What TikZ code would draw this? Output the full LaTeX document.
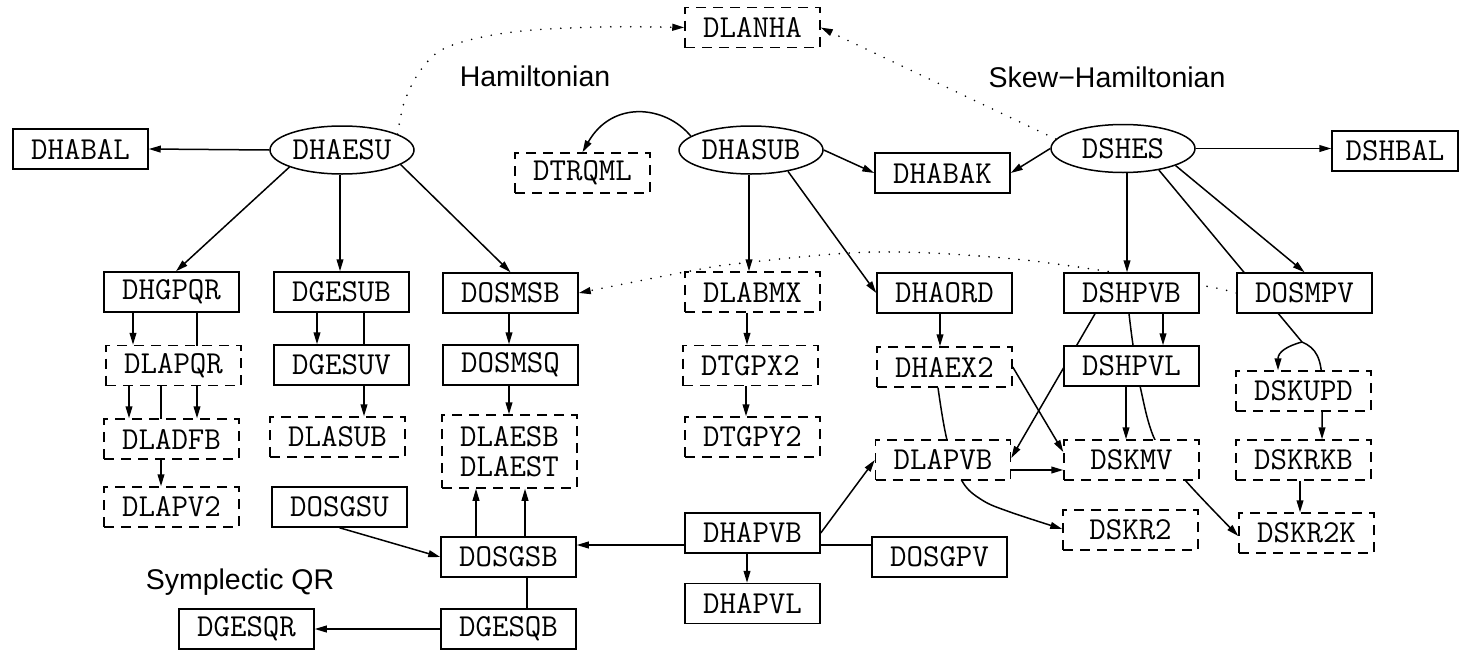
\documentclass[tikz,border=0pt]{standalone}
\usepackage{fontspec}
\newfontfamily\labfont{Liberation Sans}
\usetikzlibrary{shapes.geometric,arrows.meta}
\pgfdeclarelayer{bg}
\pgfsetlayers{bg,main}
\begin{document}
\begin{tikzpicture}[x=0.5pt,y=-0.5pt,
  every node/.style={font=\fontsize{16}{18}\selectfont\ttfamily},
  sbox/.style={draw, line width=0.75pt, fill=white, minimum width=67.5pt, minimum height=20pt, inner sep=0pt},
  dbox/.style={sbox, dash pattern=on 5pt off 3.5pt},
  ell/.style={ellipse, draw, line width=0.75pt, fill=white, minimum width=72pt, minimum height=24pt, inner sep=0pt},
  lbl/.style={font=\labfont\fontsize{14.25}{16}\selectfont, anchor=base, inner sep=0pt},
  ln/.style={line width=0.75pt},
  arr/.style={ln, -{Triangle[length=6pt,width=3.4pt]}},
  dotl/.style={line width=0.9pt, line cap=round, dash pattern=on 0pt off 5pt},
]
\useasboundingbox (0,0) rectangle (1459,653);

% nodes
\node[sbox] (DHABAL) at (80.5,149) {DHABAL};
\node[ell] (DHAESU) at (342,150) {DHAESU};
\node[dbox] (DLANHA) at (752.5,27.5) {DLANHA};
\node[dbox] (DTRQML) at (582.5,173) {DTRQML};
\node[ell] (DHASUB) at (751,150) {DHASUB};
\node[sbox] (DHABAK) at (942.5,173) {DHABAK};
\node[ell] (DSHES) at (1123,148.5) {DSHES};
\node[sbox, minimum width=63pt] (DSHBAL) at (1395,151) {DSHBAL};

\node[sbox] (DHGPQR) at (171.5,292) {DHGPQR};
\node[sbox] (DGESUB) at (341.5,292) {DGESUB};
\node[sbox] (DOSMSB) at (510.5,293) {DOSMSB};
\node[dbox] (DLABMX) at (752.5,292) {DLABMX};
\node[sbox] (DHAORD) at (944.5,293) {DHAORD};
\node[sbox] (DSHPVB) at (1131.5,293) {DSHPVB};
\node[sbox] (DOSMPV) at (1304.5,293) {DOSMPV};

\node[dbox] (DLAPQR) at (173.5,365.5) {DLAPQR};
\node[sbox] (DGESUV) at (341.5,365) {DGESUV};
\node[sbox] (DOSMSQ) at (510.5,365) {DOSMSQ};
\node[dbox] (DTGPX2) at (750.5,365.5) {DTGPX2};
\node[dbox] (DHAEX2) at (944.5,367) {DHAEX2};
\node[sbox] (DSHPVL) at (1131.5,366) {DSHPVL};
\node[dbox] (DSKUPD) at (1303.5,391) {DSKUPD};

\node[dbox] (DLADFB) at (171.5,439) {DLADFB};
\node[dbox] (DLASUB) at (337.5,437) {DLASUB};
\node[dbox, minimum height=36.5pt, align=center, font=\fontsize{16}{15}\selectfont\ttfamily] (DLAESB) at (509.5,451.5) {DLAESB\\DLAEST};
\node[dbox] (DTGPY2) at (752.5,437) {DTGPY2};
\node[dbox] (DLAPVB) at (943,460) {DLAPVB};
\node[dbox] (DSKMV) at (1131.5,460) {DSKMV};
\node[dbox] (DSKRKB) at (1303.5,460) {DSKRKB};

\node[dbox] (DLAPV2) at (171.5,507) {DLAPV2};
\node[sbox] (DOSGSU) at (339.5,507) {DOSGSU};
\node[sbox] (DOSGSB) at (508.5,557) {DOSGSB};
\node[sbox] (DHAPVB) at (752.5,533) {DHAPVB};
\node[sbox] (DOSGPV) at (939.5,557) {DOSGPV};
\node[sbox] (DHAPVL) at (752.5,603.5) {DHAPVL};
\node[dbox] (DSKR2) at (1130.5,530) {DSKR2};
\node[dbox] (DSKR2K) at (1306.5,533) {DSKR2K};
\node[sbox] (DGESQB) at (508.5,629) {DGESQB};
\node[sbox] (DGESQR) at (246.5,629) {DGESQR};

% labels
\node[lbl] (hamlab) at (535,86) {Hamiltonian};
\node[lbl] (skewlab) at (1107,87) {Skew−Hamiltonian};
\node[lbl] (sqrlab) at (240,589) {Symplectic QR};

\coordinate (J) at (1302,342);

\begin{pgfonlayer}{bg}
% top level
\draw[arr] (DHAESU.west) -- (DHABAL.east);
\draw[dotl, -{Triangle[length=6pt,width=3.4pt]}] plot[smooth, tension=0.6] coordinates {(DHAESU.16) (405,100) (423,67) (450,46) (513,32) (600,27) (DLANHA.west)};
\draw[dotl, -{Triangle[length=6pt,width=3.4pt]}] (DSHES.172) -- (DLANHA.east);
\draw[arr] (DHAESU.198) -- (DHGPQR.north -| 176,0);
\draw[arr] (DHAESU.south -| 340,0) -- (DGESUB.north -| 340,0);
\draw[arr] (DHAESU.-14) -- (DOSMSB.north);
\draw[arr] (DHASUB.167) .. controls (665,105) and (612,100) .. (DTRQML.north);
\draw[arr] (DHASUB.east) -- (DHABAK.west);
\draw[arr] (DHASUB.south -| 749,0) -- (DLABMX.north -| 749,0);
\draw[arr] (DHASUB.-30) -- (DHAORD.west);
\draw[arr] (DSHES.west) -- (DHABAK.east);
\draw[arr] (DSHES.east) -- (DSHBAL.west |- DSHES.east);
\draw[arr] (DSHES.south -| 1127,0) -- (DSHPVB.north -| 1127,0);
\draw[arr] (DSHES.-18) -- (DOSMPV.north);
\draw[ln] (DSHES.-31) -- (J);
\draw[arr] (J) .. controls (1287,346) and (1278,352) .. (DSKUPD.north -| 1278,0);
\draw[arr] (J) .. controls (1316,348) and (1322,358) .. (1322,385) -- (DSKRKB.north -| 1322,0);
\draw[dotl, -{Triangle[length=6pt,width=3.4pt]}] plot[smooth, tension=0.6] coordinates {(DOSMPV.west) (1205,286) (1112,272) (1004,258) (874,252) (743,263) (685,272) (DOSMSB.east)};

% left columns
\draw[arr] (DHGPQR.south -| 133,0) -- (DLAPQR.north -| 133,0);
\draw[arr] (DHGPQR.south -| 197,0) -- (DLADFB.north -| 197,0);
\draw[arr] (DLAPQR.south -| 129,0) -- (DLADFB.north -| 129,0);
\draw[arr] (DLAPQR.south -| 161,0) -- (DLAPV2.north -| 161,0);
\draw[arr] (DGESUB.south -| 317,0) -- (DGESUV.north -| 317,0);
\draw[arr] (DGESUB.south -| 364,0) -- (DLASUB.north -| 364,0);
\draw[arr] (DOSMSB.south -| 509,0) -- (DOSMSQ.north -| 509,0);
\draw[arr] (DOSMSQ.south -| 509,0) -- (DLAESB.north -| 509,0);
\draw[arr] (DOSGSB.north -| 476,0) -- (DLAESB.south -| 476,0);
\draw[arr] (DOSGSB.north -| 525,0) -- (DLAESB.south -| 525,0);
\draw[arr] (DOSGSU.south) -- (DOSGSB.west);
\draw[arr] (DOSGPV.west |- 0,545) -- (DOSGSB.east |- 0,545);
\draw[arr] (DOSGSB.south -| 527,0) |- (DGESQR.east);

% middle and right
\draw[arr] (DHAPVB.south -| 747,0) -- (DHAPVL.north -| 747,0);
\draw[arr] (DHAPVB.east) -- (DLAPVB.west);
\draw[arr] (DLAPVB.east |- 0,470) -- (DSKMV.west |- 0,470);
\draw[arr] (DHAEX2.east) -- (DSKMV.west |- 0,452);
\draw[arr] (DSHPVB.south -| 1095,0) -- (DLAPVB.east |- 0,458);
\draw[arr] (DSHPVB.south -| 1163,0) -- (DSHPVL.north -| 1163,0);
\draw[arr] (DSHPVL.south -| 1126,0) -- (DSKMV.north -| 1126,0);
\draw[arr] plot[smooth, tension=0.6] coordinates {(DSHPVB.south -| 1129,0) (1133,345) (1140,386) (1155,440) (1185,480) (DSKR2K.west |- 0,536)};
\draw[arr] plot[smooth, tension=0.6] coordinates {(DHAEX2.south -| 938,0) (947,440) (962,481) (982,500) (1010,512) (DSKR2.west |- 0,529)};
\draw[arr] (DHAORD.south -| 940,0) -- (DHAEX2.north -| 940,0);
\draw[arr] (DLABMX.south -| 747,0) -- (DTGPX2.north -| 747,0);
\draw[arr] (DTGPX2.south -| 746,0) -- (DTGPY2.north -| 746,0);
\draw[arr] (DSKRKB.south -| 1300,0) -- (DSKR2K.north -| 1300,0);
\end{pgfonlayer}
\end{tikzpicture}
\end{document}
